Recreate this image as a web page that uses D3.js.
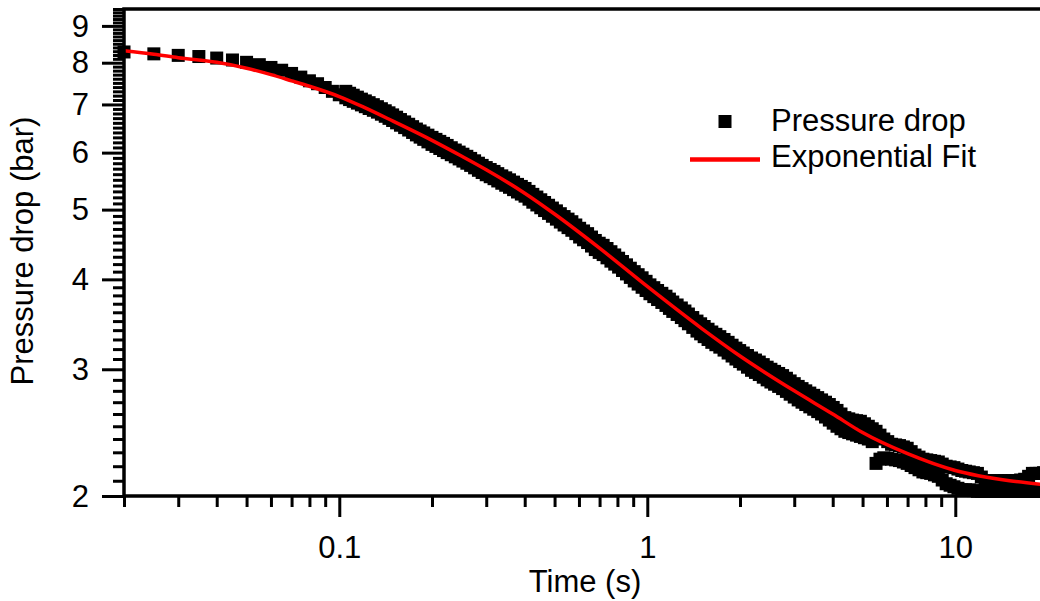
<!DOCTYPE html>
<html><head><meta charset="utf-8">
<script src="https://cdn.jsdelivr.net/npm/d3@7/dist/d3.min.js"></script>
<style>
body{margin:0;background:#fff;}
svg{display:block;}
text{font-family:"Liberation Sans",Arial,Helvetica,sans-serif;fill:#000;}
</style>
</head><body>
<svg id="chart" width="1040" height="601"></svg>
<script>
// ---------- data ----------
// early, individually visible samples (s, bar)
const earlyTime = [0.020,0.025,0.030,0.035,0.040,0.045,0.050,0.055,0.060,0.065,0.070,0.075,0.080,0.085,0.090,0.095,0.100];
const earlyPressure = [8.28,8.23,8.19,8.16,8.12,8.07,8.01,7.95,7.88,7.81,7.73,7.64,7.55,7.48,7.39,7.30,7.22];

// later samples: upper and lower edge of the scattered band (s, bar)
const bandTime = [0.105,0.111,0.118,0.125,0.133,0.141,0.149,0.158,0.168,0.178,0.188,0.2,0.212,0.224,0.238,0.252,0.267,0.283,0.3,0.318,0.337,0.357,0.379,0.401,0.425,0.451,0.478,0.507,0.537,0.569,0.603,0.64,0.678,0.719,0.762,0.807,0.856,0.907,0.962,1.02,1.08,1.15,1.21,1.29,1.36,1.45,1.53,1.62,1.72,1.83,1.94,2.05,2.18,2.31,2.45,2.59,2.75,2.91,3.09,3.27,3.47,3.68,3.9,4.13,4.38,4.64,4.92,5.22,5.53,5.86,6.21,6.59,6.98,7.4,7.85,8.32,8.81,9.34,9.9,10.5,11.1,11.8,12.5,13.3,14.1,14.9,15.8,16.8,17.8,18.8,19.9];
const bandHigh = [7.30,7.21,7.12,7.04,6.95,6.86,6.77,6.67,6.57,6.47,6.39,6.30,6.22,6.14,6.05,5.97,5.89,5.80,5.72,5.65,5.57,5.50,5.42,5.35,5.25,5.16,5.07,4.98,4.89,4.81,4.71,4.63,4.53,4.46,4.37,4.28,4.19,4.10,4.02,3.93,3.86,3.79,3.72,3.65,3.58,3.50,3.44,3.38,3.33,3.27,3.21,3.16,3.11,3.07,3.02,2.98,2.94,2.89,2.84,2.80,2.76,2.72,2.68,2.63,2.57,2.55,2.54,2.50,2.46,2.40,2.36,2.35,2.33,2.28,2.25,2.24,2.23,2.20,2.19,2.17,2.16,2.15,2.10,2.10,2.10,2.10,2.10,2.11,2.15,2.15,2.16];
const bandLow = [7.15,7.07,6.99,6.91,6.83,6.74,6.65,6.55,6.45,6.35,6.26,6.16,6.08,6.00,5.92,5.84,5.76,5.67,5.59,5.52,5.44,5.37,5.29,5.22,5.12,5.03,4.94,4.85,4.76,4.68,4.58,4.50,4.40,4.33,4.24,4.16,4.07,3.98,3.90,3.82,3.75,3.68,3.61,3.54,3.47,3.39,3.33,3.27,3.22,3.16,3.10,3.05,2.99,2.95,2.90,2.86,2.82,2.77,2.72,2.68,2.64,2.60,2.55,2.50,2.46,2.44,2.42,2.40,2.22,2.26,2.25,2.24,2.22,2.19,2.16,2.15,2.13,2.08,2.06,2.04,2.04,2.03,2.03,2.03,2.03,2.03,2.03,2.03,2.03,2.03,2.03];

// further readings in between the ones above (s, bar)
const bandTime2 = [0.108,0.1145,0.1215,0.129,0.137,0.145,0.1535,0.163,0.173,0.183,0.194,0.206,0.218,0.231,0.245,0.2595,0.275,0.291,0.309,0.327,0.347,0.368,0.39,0.413,0.438,0.464,0.492,0.522,0.553,0.586,0.621,0.659,0.698,0.74,0.784,0.831,0.881,0.934,0.991,1.05,1.115,1.18,1.25,1.325,1.405,1.49,1.575,1.67,1.775,1.885,1.995,2.115,2.245,2.38,2.52,2.67,2.83,3.0,3.18,3.37,3.575,3.79,4.015,4.255,4.51,4.78,5.07,5.375,5.695,6.035,6.4,6.785,7.19,7.625,8.08,8.56,9.07,9.62,10.2,10.8,11.45,12.15,12.9,13.7,14.5,15.35,16.3,17.3,18.3,19.35];
const bandHigh2 = [7.255,7.165,7.08,6.995,6.905,6.815,6.72,6.62,6.52,6.43,6.345,6.26,6.18,6.095,6.01,5.93,5.845,5.76,5.685,5.61,5.535,5.46,5.385,5.30,5.205,5.115,5.025,4.935,4.85,4.76,4.67,4.58,4.49,4.415,4.325,4.235,4.145,4.06,3.975,3.895,3.825,3.755,3.685,3.615,3.54,3.47,3.41,3.355,3.30,3.24,3.185,3.135,3.09,3.045,3.00,2.96,2.915,2.865,2.82,2.78,2.74,2.70,2.655,2.60,2.56,2.545,2.52,2.48,2.43,2.38,2.355,2.34,2.305,2.265,2.245,2.235,2.215,2.195,2.18,2.165,2.155,2.125,2.10,2.10,2.10,2.10,2.105,2.13,2.15,2.155];
const bandLow2 = [7.11,7.03,6.95,6.87,6.785,6.695,6.60,6.50,6.40,6.305,6.21,6.12,6.04,5.96,5.88,5.80,5.715,5.63,5.555,5.48,5.405,5.33,5.255,5.17,5.075,4.985,4.895,4.805,4.72,4.63,4.54,4.45,4.36,4.285,4.20,4.115,4.025,3.94,3.86,3.785,3.715,3.645,3.575,3.505,3.43,3.36,3.30,3.245,3.19,3.13,3.075,3.02,2.97,2.925,2.88,2.84,2.795,2.745,2.70,2.66,2.62,2.575,2.525,2.48,2.45,2.43,2.41,2.38,2.25,2.255,2.245,2.23,2.205,2.175,2.155,2.14,2.105,2.07,2.05,2.04,2.035,2.03,2.03,2.03,2.03,2.03,2.03,2.03,2.03,2.03];

// exponential fit curve (s, bar)
const fitTime = [0.02,0.025,0.03,0.04,0.05,0.06,0.07,0.08,0.1,0.12,0.15,0.2,0.25,0.3,0.4,0.5,0.7,1.0,1.5,2,3,4,5,7,10,15,20];
const fitPressure = [8.31,8.22,8.13,8.01,7.86,7.70,7.55,7.42,7.18,6.94,6.63,6.24,5.93,5.68,5.27,4.93,4.42,3.91,3.42,3.13,2.80,2.60,2.45,2.29,2.17,2.10,2.072];

// axes
const xMajorTicks = [0.1, 1, 10];
const xMajorLabels = ["0.1", "1", "10"];
const xMinorTicks = [0.02,0.03,0.04,0.05,0.06,0.07,0.08,0.09,0.2,0.3,0.4,0.5,0.6,0.7,0.8,0.9,2,3,4,5,6,7,8,9,20];
const yMajorTicks = [2,3,4,5,6,7,8,9];
const yMajorLabels = ["2","3","4","5","6","7","8","9"];
const xDomain = [0.02, 20];
const yDomain = [2, 9.5];
const xTitle = "Time (s)";
const yTitle = "Pressure drop (bar)";
const legendLabels = ["Pressure drop", "Exponential Fit"];

// ---------- drawing ----------
const L = 124, R = 1048, T = 9, B = 496;
const svg = d3.select("#chart");
const x = d3.scaleLog().domain(xDomain).range([L, R]);
const y = d3.scaleLog().domain(yDomain).range([B, T]);

const points = [];
earlyTime.forEach((t,i)=>points.push([t, earlyPressure[i]]));
bandTime.forEach((t,i)=>{ points.push([t, bandHigh[i]]); points.push([t, bandLow[i]]); });
bandTime2.forEach((t,i)=>{ points.push([t, bandHigh2[i]]); points.push([t, bandLow2[i]]); });

const M = 13;
svg.append("g").selectAll("rect").data(points).join("rect")
  .attr("x", d => x(d[0]) - M/2)
  .attr("y", d => y(d[1]) - M/2)
  .attr("width", M).attr("height", M)
  .attr("fill", "#000");

const line = d3.line().x(d=>x(d[0])).y(d=>y(d[1])).curve(d3.curveMonotoneX);
svg.append("path")
  .datum(fitTime.map((t,i)=>[t, fitPressure[i]]))
  .attr("d", line)
  .attr("fill","none").attr("stroke","#ff0000").attr("stroke-width",3.5);

// minor y ticks every 0.1
const yMinorTicks = d3.range(21, 96).map(v => v/10).filter(v => Math.abs(v - Math.round(v)) > 1e-6);

const FS = 31;
// x axis
const gxMin = svg.append("g").attr("transform", `translate(0,${B})`)
  .call(d3.axisBottom(x).tickValues(xMinorTicks).tickSize(11).tickFormat(""));
const gxMaj = svg.append("g").attr("transform", `translate(0,${B})`)
  .call(d3.axisBottom(x).tickValues(xMajorTicks).tickSize(21)
    .tickFormat((d,i)=>xMajorLabels[i]));
[gxMin,gxMaj].forEach(g=>{ g.select(".domain").remove(); g.selectAll("line").attr("stroke","#000").attr("stroke-width",3); });
gxMaj.selectAll("text").attr("y", 62).attr("dy", null).style("font-size", FS+"px").attr("font-family", null);

// y axis
const gyMin = svg.append("g").attr("transform", `translate(${L},0)`)
  .call(d3.axisLeft(y).tickValues(yMinorTicks).tickSize(11).tickFormat(""));
const gyMaj = svg.append("g").attr("transform", `translate(${L},0)`)
  .call(d3.axisLeft(y).tickValues(yMajorTicks).tickSize(22)
    .tickFormat((d,i)=>yMajorLabels[i]));
[gyMin,gyMaj].forEach(g=>{ g.select(".domain").remove(); g.selectAll("line").attr("stroke","#000").attr("stroke-width",3); });
gyMaj.selectAll("text").attr("x", -35).attr("dy", "0.33em").style("font-size", FS+"px").attr("font-family", null);

// frame
svg.append("rect").attr("x", L).attr("y", T).attr("width", R-L).attr("height", B-T)
  .attr("fill","none").attr("stroke","#000").attr("stroke-width",3.5);

// titles
svg.append("text").attr("x", 585).attr("y", 592).attr("text-anchor","middle")
  .style("font-size", FS+"px").text(xTitle);
svg.append("text").attr("transform","translate(33,251) rotate(-90)").attr("text-anchor","middle")
  .style("font-size", FS+"px").text(yTitle);

// legend
const lg = svg.append("g");
lg.append("rect").attr("x", 718.5).attr("y", 115).attr("width", 13).attr("height", 13).attr("fill","#000");
lg.append("text").attr("x", 771).attr("y", 131).style("font-size", FS+"px").text(legendLabels[0]);
lg.append("line").attr("x1", 690).attr("x2", 760).attr("y1", 159.5).attr("y2", 159.5)
  .attr("stroke","#ff0000").attr("stroke-width",4.5);
lg.append("text").attr("x", 771).attr("y", 167).style("font-size", FS+"px").text(legendLabels[1]);
</script>
</body></html>
